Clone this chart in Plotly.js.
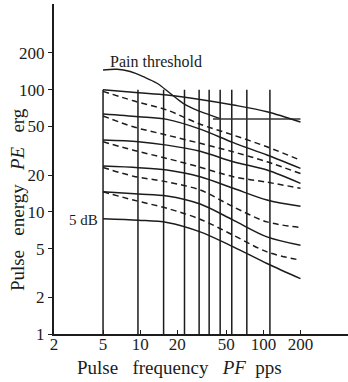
<!DOCTYPE html>
<html>
<head>
<meta charset="utf-8">
<script src="https://cdn.plot.ly/plotly-3.0.1.min.js"></script>
<style>html,body{margin:0;padding:0;background:#fff;}#chart{width:348px;height:382px;}</style>
</head>
<body>
<div id="chart"></div>
<script>
// ---- data ----
const xTicks = [2, 5, 10, 20, 50, 100, 200];
const yTicks = [1, 2, 5, 10, 20, 50, 100, 200];

// measurement frequencies (vertical lines), pps
const measureFreq = [5, 9.6, 15.5, 22.9, 30.1, 36.3, 44.6, 55.4, 73.4, 113];
const measureTop = 100;

// pain threshold
const painX = [5, 6.5, 8.3, 10.6, 13.7, 17.5, 22.5, 28.8, 37, 44.5];
const painY = [145, 147, 141, 128, 113, 93.5, 77, 68, 62, 58];
const plateauX = [39, 200];
const plateauY = [57.6, 57.6];

// solid curves (equal sensation levels)
const solidX = [5, 9.7, 16.5, 30.7, 57, 107, 200];
const solid1 = [100, 94.5, 90.5, 83.2, 75, 66.1, 54.4];
const solid2 = [63.2, 60.1, 57.2, 47.6, 36.9, 29.2, 22.7];
const solid3 = [38.7, 37.5, 35.2, 31.4, 25.7, 22.0, 17.1];
const solid4 = [23.7, 23.0, 22.0, 19.4, 15.6, 12.5, 11.1];
const solid5 = [14.6, 14.0, 13.5, 11.6, 8.55, 6.24, 5.33];
const solid6 = [8.8, 8.55, 8.19, 6.86, 5.17, 3.78, 2.84];

// dashed curves
const dashX = [5, 8.8, 16.5, 30.7, 57, 107, 200];
const dash1 = [97, 81.2, 68.2, 52.2, 42.5, 34.1, 26.5];
const dash2 = [61, 49.7, 42.5, 36.4, 31.0, 25.7, 20.6];
const dash3 = [37.5, 32.0, 27.4, 23.2, 19.4, 17.5, 15.6];
const dash4 = [23.1, 19.6, 17.6, 15.1, 11.0, 8.28, 7.45];
const dash5 = [14.6, 12.5, 10.7, 8.71, 6.44, 4.70, 4.02];

// ---- build traces ----
const INK = '#1c1c1c';
const FONT = 'Liberation Serif';
const traces = [];

const vx = [], vy = [];
measureFreq.forEach(f => { vx.push(f, f, null); vy.push(1, measureTop, null); });
traces.push({x: vx, y: vy, mode: 'lines', line: {color: INK, width: 1.5}, hoverinfo: 'skip'});

traces.push({x: painX, y: painY, mode: 'lines', line: {color: INK, width: 1.4, shape: 'spline', smoothing: 1}});
traces.push({x: plateauX, y: plateauY, mode: 'lines', line: {color: '#333', width: 1.5}});

[solid1, solid2, solid3, solid4, solid5, solid6].forEach(s => {
  traces.push({x: solidX, y: s, mode: 'lines', line: {color: INK, width: 1.5, shape: 'spline', smoothing: 0.9}});
});
[dash1, dash2, dash3, dash4, dash5].forEach(d => {
  traces.push({x: dashX, y: d, mode: 'lines', line: {color: INK, width: 1.5, dash: '6px,4px', shape: 'spline', smoothing: 0.9}});
});

const layout = {
  width: 348, height: 382,
  margin: {l: 54, r: 0, t: 4, b: 48, pad: 0},
  paper_bgcolor: '#fff', plot_bgcolor: '#fff',
  showlegend: false,
  font: {family: FONT, color: INK, size: 17},
  xaxis: {
    type: 'log', range: [Math.log10(2), Math.log10(486)],
    tickvals: xTicks, ticktext: xTicks.map(String),
    ticks: 'inside', ticklen: 4, tickwidth: 1, tickcolor: INK,
    ticklabelstandoff: -6,
    showline: true, linewidth: 2, linecolor: INK,
    showgrid: false, zeroline: false,
    tickfont: {family: FONT, size: 17, color: INK}
  },
  yaxis: {
    type: 'log', range: [0, 2.702],
    tickvals: yTicks, ticktext: yTicks.map(String),
    ticks: 'outside', ticklen: 4, tickwidth: 1, tickcolor: INK,
    showline: true, linewidth: 2, linecolor: INK,
    showgrid: false, zeroline: false,
    tickfont: {family: FONT, size: 17, color: INK}
  },
  annotations: [
    {text: 'Pulse\u00a0\u00a0\u00a0frequency\u00a0\u00a0\u00a0<i>PF</i>\u00a0\u00a0pps', xref: 'paper', yref: 'paper',
     x: 0.0714, y: -0.101, xanchor: 'left', yanchor: 'middle', showarrow: false,
     font: {family: FONT, size: 19, color: INK}},
    {text: 'Pulse\u00a0\u00a0\u00a0energy\u00a0\u00a0\u00a0<i>PE</i>\u00a0\u00a0\u00a0erg', xref: 'paper', yref: 'paper',
     x: -0.126, y: 0.4086, xanchor: 'center', yanchor: 'middle', textangle: -90, showarrow: false,
     font: {family: FONT, size: 19, color: INK}},
    {text: 'Pain threshold', xref: 'paper', yref: 'paper',
     x: 0.1837, y: 0.825, xanchor: 'left', yanchor: 'middle', showarrow: false,
     font: {family: FONT, size: 16, color: INK}},
    {text: '5 dB', xref: 'paper', yref: 'paper',
     x: 0.1565, y: 0.344, xanchor: 'right', yanchor: 'middle', showarrow: false,
     font: {family: FONT, size: 15, color: INK}}
  ]
};

Plotly.newPlot('chart', traces, layout, {staticPlot: true, displayModeBar: false});
</script>
</body>
</html>
